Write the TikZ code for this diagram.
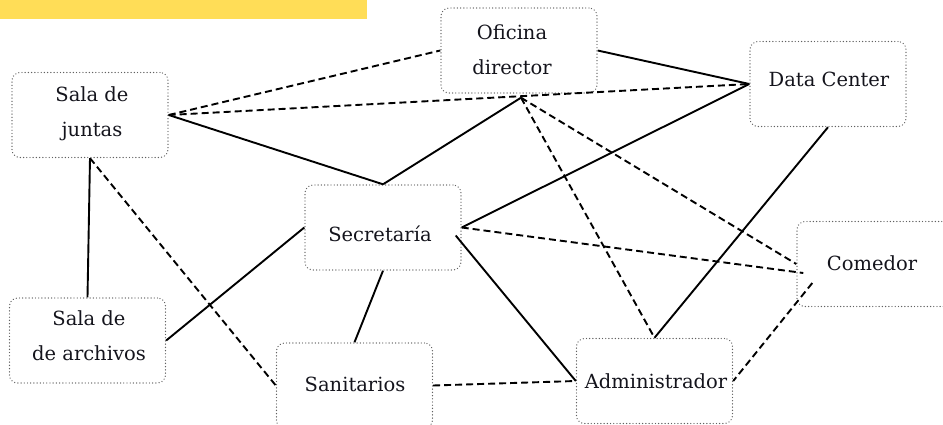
\documentclass[tikz,border=0pt]{standalone}
\usepackage{fontspec}
\setmainfont{DejaVu Serif}
\usetikzlibrary{calc}
\definecolor{bar}{RGB}{255,221,87}
\definecolor{txt}{RGB}{20,20,28}
\begin{document}
\begin{tikzpicture}[x=1pt,y=-1pt,
  place/.style={draw=black!62, line width=1.4pt, dash pattern=on 0.01pt off 3.2pt, line cap=round,
    rounded corners=8pt, minimum width=156pt, minimum height=85pt, inner sep=0pt},
  lbl/.style={text=txt, align=center, inner sep=0pt, font=\fontsize{19.5}{35}\selectfont},
  link/.style={draw=black, line width=1.9pt},
  dlink/.style={link, dash pattern=on 7pt off 4pt}]
\useasboundingbox (0,0) rectangle (943,425);
\clip (0,0) rectangle (943,425);
\fill[bar] (0,0) rectangle (367,19);
% boxes
\node[place] (sj)   at (90,115)    {};
\node[place] (of)   at (519,50.5)  {};
\node[place] (dc)   at (828,84)    {};
\node[place] (sec)  at (383,227.5) {};
\node[place] (arch) at (87.5,340.5){};
\node[place] (san)  at (354.5,385.5){};
\node[place] (adm)  at (654.5,381) {};
\node[place] (com)  at (875,264)   {};
% labels
\node[lbl] (sjT)   at (92,114)   {Sala de\\juntas};
\node[lbl] (ofT)   at (512,50)   {Oficina\\director};
\node[lbl] (dcT)   at (829,79)   {Data Center};
\node[lbl] (secT)  at (380,234)  {Secretaría};
\node[lbl] (archT) at (89,336)   {Sala de\\de archivos};
\node[lbl] (sanT)  at (355,384)  {Sanitarios};
\node[lbl] (admT)  at (656,381)  {Administrador};
\node[lbl] (comT)  at (872,263)  {Comedor};
% connector points
\coordinate (ofs) at ($(of.south)+(2,4)$);
\coordinate (secR) at ($(sec.east)+(-6,8)$);
\coordinate (comA) at ($(com.west)+(7,9)$);
\coordinate (comB) at ($(com.west)+(16,19)$);
% connectors
\draw[dlink] (sj.east) -- (of.west);
\draw[dlink] (sj.east) -- (dc.west);
\draw[link]  (sj.east) -- (sec.north);
\draw[link]  (sec.north) -- (ofs);
\draw[link]  (of.east) -- (dc.west);
\draw[dlink] (ofs) -- (adm.north);
\draw[dlink] (ofs) -- (com.west);
\draw[link]  (dc.west) -- (sec.east);
\draw[link]  (dc.south) -- (adm.north);
\draw[dlink] (sec.east) -- (comA);
\draw[link]  (secR) -- (adm.west);
\draw[dlink] (comB) -- (adm.east);
\draw[dlink] (san.east) -- (adm.west);
\draw[link]  (sec.south) -- (san.north);
\draw[link]  (arch.east) -- (sec.west);
\draw[link]  (sj.south) -- (arch.north);
\draw[dlink] (sj.south) -- (san.west);
\end{tikzpicture}
\end{document}
